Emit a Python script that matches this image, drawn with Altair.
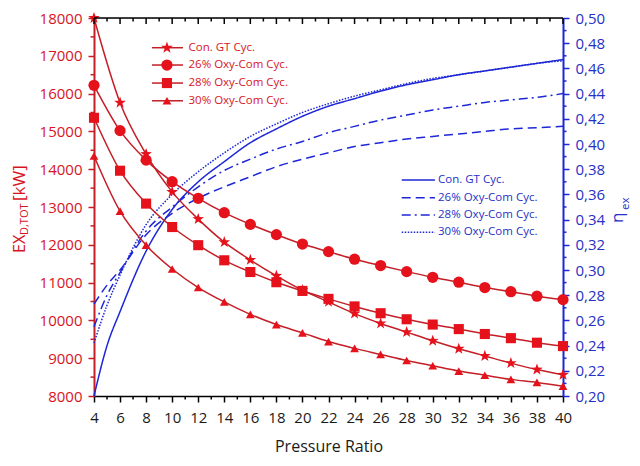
import altair as alt
import pandas as pd

FONT = "Open Sans"
RED_LINE = "#c41e26"
RED_MARK = "#e5121c"
RED_TXT = "#d8141e"
BLUE = "#1d27d6"
BLUE_TXT = "#2730c6"

# ---------------- data ----------------
series = ["Con. GT Cyc.", "26% Oxy-Com Cyc.", "28% Oxy-Com Cyc.", "30% Oxy-Com Cyc."]

pr = [4, 6, 8, 10, 12, 14, 16, 18, 20, 22, 24, 26, 28, 30, 32, 34, 36, 38, 40]
ex_con = [18000, 15760, 14400, 13400, 12680, 12070, 11600, 11180, 10800, 10490,
          10180, 9920, 9690, 9460, 9250, 9060, 8870, 8700, 8560]
ex_26 = [16220, 15020, 14240, 13670, 13230, 12850, 12540, 12270, 12020, 11820,
         11620, 11450, 11290, 11140, 11010, 10870, 10760, 10640, 10550]
ex_28 = [15360, 13960, 13090, 12470, 11990, 11590, 11280, 11010, 10780, 10570,
         10370, 10190, 10030, 9890, 9770, 9640, 9530, 9410, 9320]
ex_30 = [14350, 12890, 11990, 11360, 10870, 10490, 10160, 9890, 9670, 9440,
         9260, 9100, 8940, 8800, 8660, 8550, 8440, 8360, 8260]

pr_eta = [4, 5, 6, 8, 10, 12, 14, 16, 18, 20, 22, 24, 26, 28, 30, 32, 34, 36, 38, 40]
eta_con = [0.200, 0.240, 0.267, 0.315, 0.348, 0.370, 0.386, 0.401, 0.412, 0.422,
           0.430, 0.436, 0.442, 0.447, 0.451, 0.455, 0.458, 0.461, 0.464, 0.467]
eta_26 = [0.273, 0.288, 0.300, 0.328, 0.345, 0.357, 0.366, 0.374, 0.382, 0.388,
          0.393, 0.398, 0.401, 0.404, 0.406, 0.408, 0.410, 0.412, 0.413, 0.414]
eta_28 = [0.255, 0.280, 0.298, 0.331, 0.350, 0.366, 0.379, 0.388, 0.396, 0.402,
          0.409, 0.414, 0.419, 0.423, 0.427, 0.430, 0.433, 0.435, 0.437, 0.440]
eta_30 = [0.242, 0.272, 0.296, 0.336, 0.360, 0.378, 0.393, 0.406, 0.416, 0.425,
          0.432, 0.438, 0.443, 0.448, 0.452, 0.455, 0.458, 0.461, 0.464, 0.466]

ex_ticks = list(range(8000, 18001, 1000))
ex_minor = list(range(8500, 18000, 1000))
eta_ticks = [round(0.20 + 0.02 * i, 2) for i in range(16)]
eta_minor = [round(0.21 + 0.02 * i, 2) for i in range(15)]
x_minor = list(range(5, 40, 2))

# legend placement (in data units)
RED_LEG_Y = [17214, 16756, 16279, 15810]
RED_LEG_X = (8.45, 10.83, 9.6, 11.1)
BLUE_LEG_Y = [0.3714, 0.3574, 0.3437, 0.3299]
BLUE_LEG_X = (27.62, 30.17, 30.33)

W, H = 469, 378

red_df = pd.DataFrame([
    {"pr": p, "ex": v, "series": s}
    for s, vals in zip(series, [ex_con, ex_26, ex_28, ex_30])
    for p, v in zip(pr, vals)
])
blue_df = pd.DataFrame([
    {"pr": p, "eta": v, "series": s}
    for s, vals in zip(series, [eta_con, eta_26, eta_28, eta_30])
    for p, v in zip(pr_eta, vals)
])
red_leg = pd.DataFrame({"series": series, "ex": RED_LEG_Y,
                        "x0": RED_LEG_X[0], "x1": RED_LEG_X[1],
                        "xm": RED_LEG_X[2], "xt": RED_LEG_X[3]})
blue_leg = pd.DataFrame({"series": series, "eta": BLUE_LEG_Y,
                         "x0": BLUE_LEG_X[0], "x1": BLUE_LEG_X[1],
                         "xt": BLUE_LEG_X[2]})
dummy = pd.DataFrame({"a": [0]})

STAR = ("M0,-1L0.235,-0.324L0.951,-0.309L0.38,0.124L0.588,0.809L0,0.4"
        "L-0.588,0.809L-0.38,0.124L-0.951,-0.309L-0.235,-0.324Z")

XS = alt.Scale(domain=[4, 40], nice=False, zero=False)
EXS = alt.Scale(domain=[8000, 18000], nice=False, zero=False)
ETAS = alt.Scale(domain=[0.2, 0.5], nice=False, zero=False)

x_axis = alt.Axis(values=pr, labelFontSize=15, labelFont=FONT, labelColor="#1a1a1a",
                  tickSize=6, tickWidth=1.5, tickColor="black", domainColor="black",
                  domainWidth=1.6, labelPadding=8, labelFlush=False, labelOverlap=False,
                  title="Pressure Ratio", titleFont=FONT, titleFontSize=16,
                  titleFontWeight="normal", titleColor="#1a1a1a", titlePadding=13,
                  grid=False)
ex_axis = alt.Axis(values=ex_ticks, orient="left", format="d", labelFontSize=15,
                   labelFont=FONT, labelColor=RED_TXT, tickSize=6, tickWidth=1.5,
                   tickColor=RED_LINE, domainColor=RED_LINE, domainWidth=2,
                   labelPadding=6, title="", grid=False, labelOverlap=False,
                   labelFlush=False)
eta_axis = alt.Axis(values=eta_ticks, orient="right", labelFontSize=15, labelFont=FONT,
                    labelColor=BLUE_TXT, tickSize=6, tickWidth=1.5, tickColor=BLUE,
                    domainColor=BLUE, domainWidth=2, labelPadding=6, title="",
                    grid=False, labelOverlap=False, labelFlush=False,
                    labelExpr="replace(format(datum.value, '.2f'), '.', ',')")


def X(field):
    return alt.X(field, type="quantitative", scale=XS, axis=x_axis)


def YEX():
    return alt.Y("ex:Q", scale=EXS, axis=ex_axis)


def YETA():
    return alt.Y("eta:Q", scale=ETAS, axis=eta_axis)


shape_enc = alt.Shape("series:N", scale=alt.Scale(domain=series,
                      range=[STAR, "circle", "square", "triangle-up"]), legend=None)
size_enc = alt.Size("series:N", scale=alt.Scale(domain=series,
                    range=[150, 78, 64, 82]), legend=None)
dash_enc = alt.StrokeDash("series:N", scale=alt.Scale(domain=series,
                          range=[[1, 0], [9, 5], [9, 4, 2, 4], [1.5, 1.5]]), legend=None)

# ---------------- red (exergy destruction) ----------------
red_lines = alt.Chart(red_df).mark_line(color=RED_LINE, strokeWidth=1.5,
                                        interpolate="monotone").encode(
    x=X("pr"), y=YEX(), detail="series:N")
red_pts = alt.Chart(red_df).mark_point(filled=True, color=RED_MARK, opacity=1,
                                       strokeWidth=0).encode(
    x=X("pr"), y=YEX(), shape=shape_enc, size=size_enc)
left_minor = alt.Chart(pd.DataFrame({"ex": ex_minor})).mark_rule(
    color=RED_LINE, strokeWidth=1.5).encode(
    y=YEX(), x=alt.value(-3.5), x2=alt.value(0))

red_leg_line = alt.Chart(red_leg).mark_rule(color=RED_LINE, strokeWidth=1.5).encode(
    x=X("x0"), x2="x1:Q", y=YEX())
red_leg_pt = alt.Chart(red_leg).mark_point(filled=True, color=RED_MARK, opacity=1,
                                           strokeWidth=0).encode(
    x=X("xm"), y=YEX(), shape=shape_enc, size=size_enc)
red_leg_txt = alt.Chart(red_leg).mark_text(align="left", baseline="middle", dx=2,
                                           font=FONT, fontSize=11.5, color=RED_TXT).encode(
    x=X("xt"), y=YEX(), text="series:N")

t_ex = alt.Chart(dummy).mark_text(angle=270, align="left", baseline="alphabetic",
                                  font=FONT, fontSize=16, color=RED_TXT).encode(
    x=alt.value(-69), y=alt.value(235), text=alt.value("EX"))
t_sub = alt.Chart(dummy).mark_text(angle=270, align="left", baseline="alphabetic",
                                   font=FONT, fontSize=11, color=RED_TXT).encode(
    x=alt.value(-66), y=alt.value(217), text=alt.value("D,TOT"))
t_kw = alt.Chart(dummy).mark_text(angle=270, align="left", baseline="alphabetic",
                                  font=FONT, fontSize=17, color=RED_TXT).encode(
    x=alt.value(-69), y=alt.value(183), text=alt.value("[kW]"))

# frame ticks
top_major = alt.Chart(pd.DataFrame({"pr": pr})).mark_rule(color="black", strokeWidth=1.5).encode(
    x=X("pr"), y=alt.value(0), y2=alt.value(6))
top_minor = alt.Chart(pd.DataFrame({"pr": x_minor})).mark_rule(color="black", strokeWidth=1.5).encode(
    x=X("pr"), y=alt.value(0), y2=alt.value(3.5))
bot_minor = alt.Chart(pd.DataFrame({"pr": x_minor})).mark_rule(color="black", strokeWidth=1.5).encode(
    x=X("pr"), y=alt.value(H), y2=alt.value(H + 3.5))
top_border = alt.Chart(dummy).mark_rule(color="black", strokeWidth=1.6).encode(
    x=alt.value(0), x2=alt.value(W), y=alt.value(0))

red_group = alt.layer(red_lines, red_pts, left_minor, red_leg_line, red_leg_pt,
                      red_leg_txt, t_ex, t_sub, t_kw, top_major, top_minor,
                      bot_minor, top_border)

# ---------------- blue (exergy efficiency) ----------------
blue_lines = alt.Chart(blue_df).mark_line(color=BLUE, strokeWidth=1.5,
                                          interpolate="monotone").encode(
    x=X("pr"), y=YETA(), strokeDash=dash_enc, detail="series:N")
right_minor = alt.Chart(pd.DataFrame({"eta": eta_minor})).mark_rule(
    color=BLUE, strokeWidth=1.5).encode(
    y=YETA(), x=alt.value(W), x2=alt.value(W + 3.5))
blue_leg_line = alt.Chart(blue_leg).mark_rule(color=BLUE, strokeWidth=1.5).encode(
    x=X("x0"), x2="x1:Q", y=YETA(), strokeDash=dash_enc)
blue_leg_txt = alt.Chart(blue_leg).mark_text(align="left", baseline="middle", dx=1,
                                             font=FONT, fontSize=11.5, color=BLUE_TXT).encode(
    x=X("xt"), y=YETA(), text="series:N")
t_eta = alt.Chart(dummy).mark_text(angle=270, align="left", baseline="alphabetic",
                                   font=FONT, fontSize=17, color=BLUE_TXT).encode(
    x=alt.value(529), y=alt.value(205), text=alt.value("η"))
t_eta_sub = alt.Chart(dummy).mark_text(angle=270, align="left", baseline="alphabetic",
                                       font=FONT, fontSize=11.5, color=BLUE_TXT).encode(
    x=alt.value(535), y=alt.value(192), text=alt.value("ex"))

blue_group = alt.layer(blue_lines, right_minor, blue_leg_line, blue_leg_txt,
                       t_eta, t_eta_sub)

chart = alt.layer(blue_group, red_group).resolve_scale(y="independent").properties(
    width=W, height=H,
    padding={"left": 86, "top": 10, "right": 69, "bottom": 62},
    autosize=alt.AutoSizeParams(type="none"),
).configure_view(stroke=None).configure(background="white")

chart.save("out.html", embed_options={"renderer": "svg", "actions": False})
